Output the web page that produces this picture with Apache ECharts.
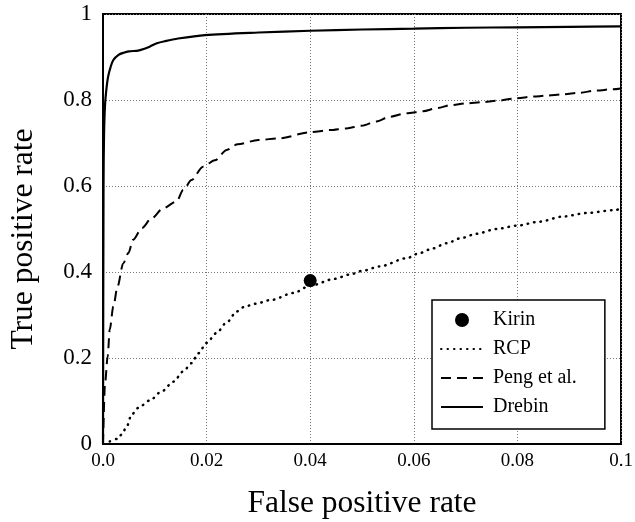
<!DOCTYPE html>
<html>
<head>
<meta charset="utf-8">
<style>
  html, body { margin: 0; padding: 0; background: #fff; }
  #chart { width: 635px; height: 522px; }
</style>
<script src="https://cdn.jsdelivr.net/npm/echarts@6/dist/echarts.min.js"></script>
</head>
<body>
<div id="chart"></div>
<script>
// ROC curves: [false positive rate, true positive rate]
const drebin = [
  [0, 0], [0.0001, 0.6], [0.0002, 0.72], [0.0004, 0.79], [0.0007, 0.83],
  [0.001, 0.855], [0.0015, 0.878], [0.002, 0.893], [0.003, 0.905],
  [0.004, 0.910], [0.005, 0.913], [0.0068, 0.915], [0.008, 0.919],
  [0.009, 0.924], [0.0104, 0.932], [0.012, 0.937], [0.0145, 0.943],
  [0.0197, 0.951], [0.03, 0.957], [0.04, 0.961], [0.05, 0.964],
  [0.06, 0.966], [0.07, 0.968], [0.08, 0.969], [0.09, 0.970], [0.1, 0.971]
];
const peng = [
  [0, 0], [0.0004, 0.142], [0.0009, 0.204], [0.0013, 0.266], [0.002, 0.32],
  [0.0028, 0.366], [0.0039, 0.42], [0.0049, 0.444], [0.0058, 0.475],
  [0.0075, 0.502], [0.0094, 0.525], [0.0116, 0.548], [0.0142, 0.564],
  [0.0155, 0.591], [0.0171, 0.614], [0.0193, 0.645], [0.0216, 0.66],
  [0.0239, 0.684], [0.026, 0.697], [0.03, 0.707], [0.0341, 0.711],
  [0.0399, 0.725], [0.0438, 0.730], [0.047, 0.734], [0.0499, 0.740],
  [0.0528, 0.75], [0.0553, 0.761], [0.0586, 0.769], [0.0618, 0.774],
  [0.0644, 0.781], [0.0672, 0.788], [0.0701, 0.792], [0.0733, 0.795],
  [0.0759, 0.798], [0.0798, 0.804], [0.083, 0.808], [0.0856, 0.81],
  [0.0888, 0.813], [0.092, 0.817], [0.0952, 0.822], [0.0984, 0.825],
  [0.1, 0.827]
];
const rcp = [
  [0.0013, 0.006], [0.0028, 0.012], [0.0036, 0.022], [0.0046, 0.041],
  [0.0055, 0.068], [0.0068, 0.084], [0.009, 0.101], [0.0113, 0.122],
  [0.0136, 0.145], [0.0155, 0.169], [0.0171, 0.188], [0.0184, 0.211],
  [0.02, 0.235], [0.0219, 0.258], [0.0239, 0.283], [0.0258, 0.308],
  [0.0271, 0.318], [0.0293, 0.326], [0.0325, 0.335], [0.0367, 0.351],
  [0.04, 0.368], [0.0447, 0.384], [0.0476, 0.394], [0.0502, 0.403],
  [0.0534, 0.413], [0.0586, 0.432], [0.0611, 0.444], [0.0637, 0.455],
  [0.0663, 0.467], [0.0692, 0.479], [0.0721, 0.489], [0.0759, 0.5],
  [0.08, 0.508], [0.0842, 0.517], [0.0888, 0.529], [0.0933, 0.537],
  [0.0987, 0.544], [0.1, 0.547]
];
const kirin = [[0.04, 0.38]];

const seriesNames = ['Kirin', 'RCP', 'Peng et al.', 'Drebin'];
const xTicks = ['0.0', '0.02', '0.04', '0.06', '0.08', '0.1'];
const yTicks = ['0', '0.2', '0.4', '0.6', '0.8', '1'];

const serif = "'Liberation Serif', 'DejaVu Serif', serif";
const chart = echarts.init(document.getElementById('chart'));

// Line entries in the legend show only their stroke pattern, no marker
const legendData = seriesNames.map((n) =>
  n === 'Kirin' ? { name: n } : { name: n, itemStyle: { opacity: 0 } }
);

chart.setOption({
  backgroundColor: '#fff',
  animation: false,
  grid: {
    left: 103, right: 14, top: 14, bottom: 78,
    outerBoundsMode: 'none', containLabel: false,
    show: true, borderColor: '#000', borderWidth: 2
  },
  xAxis: {
    type: 'value', min: 0, max: 0.1, interval: 0.02,
    name: 'False positive rate', nameLocation: 'middle', nameGap: 44,
    nameTextStyle: { fontFamily: serif, fontSize: 31.5, color: '#000' },
    axisLine: { show: true, lineStyle: { color: '#000', width: 2 } },
    axisTick: { show: false },
    axisLabel: {
      fontFamily: serif, fontSize: 19, color: '#000', margin: 8,
      formatter: (v) => xTicks[Math.round(v / 0.02)]
    },
    splitLine: { show: true, lineStyle: { color: '#777', type: [1, 2], width: 1 } }
  },
  yAxis: {
    type: 'value', min: 0, max: 1, interval: 0.2,
    name: 'True positive rate', nameLocation: 'middle', nameGap: 63,
    nameTextStyle: { fontFamily: serif, fontSize: 31.5, color: '#000', padding: [0, 20, 0, 0] },
    axisLine: { show: true, lineStyle: { color: '#000', width: 2 } },
    axisTick: { show: false },
    axisLabel: {
      fontFamily: serif, fontSize: 23, color: '#000', margin: 11,
      formatter: (v) => yTicks[Math.round(v / 0.2)]
    },
    splitLine: { show: true, lineStyle: { color: '#777', type: [1, 2], width: 1 } }
  },
  legend: {
    orient: 'vertical',
    left: 432, top: 300,
    padding: [10, 28, 12, 8],
    itemWidth: 42, itemHeight: 14, itemGap: 9,
    backgroundColor: '#fff', borderColor: '#000', borderWidth: 1.5,
    textStyle: { fontFamily: serif, fontSize: 20, color: '#000', padding: [0, 0, 0, 5] },
    data: legendData
  },
  series: [
    {
      name: 'Drebin', type: 'line', data: drebin, symbol: 'none', smooth: 0.3,
      lineStyle: { color: '#000', width: 2.2 }, itemStyle: { color: '#000' }, z: 4
    },
    {
      name: 'Peng et al.', type: 'line', data: peng, symbol: 'none',
      smooth: 0.3, smoothMonotone: 'x',
      lineStyle: { color: '#000', width: 2, type: [10, 6] }, itemStyle: { color: '#000' }, z: 3
    },
    {
      name: 'RCP', type: 'line', data: rcp, symbol: 'none',
      smooth: 0.3, smoothMonotone: 'x',
      lineStyle: { color: '#000', width: 2.5, type: [0.5, 6], cap: 'round' }, itemStyle: { color: '#000' }, z: 3
    },
    {
      name: 'Kirin', type: 'scatter', data: kirin, symbol: 'circle', symbolSize: 13,
      itemStyle: { color: '#000', opacity: 1 }, z: 5
    }
  ]
});
</script>
</body>
</html>
